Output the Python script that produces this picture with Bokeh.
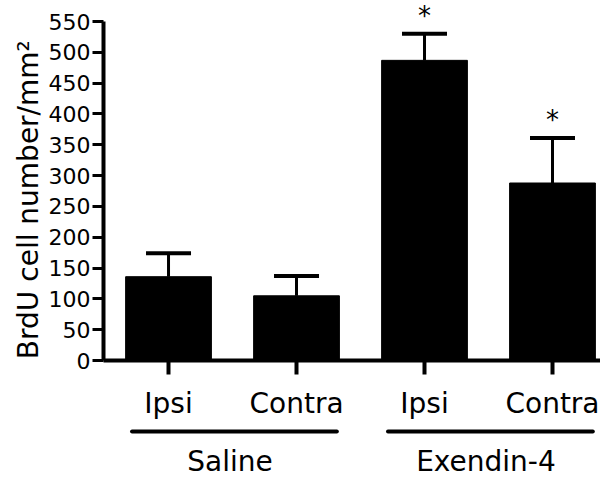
import math
from bokeh.plotting import figure
from bokeh.models import (Range1d, FixedTicker, Whisker, TeeHead, ColumnDataSource,
                          LabelSet)
from bokeh.core.properties import value
from bokeh.embed import file_html
from bokeh.resources import INLINE

# ---- data ----
sub_labels = ["Ipsi", "Contra", "Ipsi", "Contra"]
means = [136, 105, 487, 288]
sems = [38, 32, 43, 73]
significance = ["", "", "*", "*"]
groups = ["Saline", "Exendin-4"]
group_of_bar = [0, 0, 1, 1]
y_ticks = [0, 50, 100, 150, 200, 250, 300, 350, 400, 450, 500, 550]
y_title = "BrdU cell number/mm²"

FONT = "DejaVu Sans"

# layout (data units): where the y axis sits and the visible range
AXIS_X = -0.508
X_START, X_END = -1.3127, 3.375
Y_START, Y_END = -191.4, 584.1

xs = list(range(len(means)))
upper = [m + s for m, s in zip(means, sems)]
bars = ColumnDataSource(dict(x=xs, mean=means, upper=upper, sig=significance))

p = figure(width=600, height=478, output_backend="svg", toolbar_location=None,
           x_range=Range1d(X_START, X_END), y_range=Range1d(Y_START, Y_END),
           min_border_left=0, min_border_right=0, min_border_top=0,
           min_border_bottom=0)
p.outline_line_color = None
p.grid.grid_line_color = None
p.background_fill_color = "white"
p.border_fill_color = "white"

p.vbar(x="x", top="mean", width=0.67, source=bars, fill_color="black",
       line_color="black")

err = Whisker(base="x", lower="mean", upper="upper", source=bars, dimension="height",
              lower_head=None,
              upper_head=TeeHead(size=45, line_width=4, line_color="black"),
              line_width=3, line_color="black")
p.add_layout(err)

stars = LabelSet(x="x", y="upper", text="sig", source=bars, y_offset=9,
                 text_align="center", text_baseline="alphabetic",
                 text_font_size=value("26px"), text_font=value(FONT),
                 text_color="black")
p.add_layout(stars)

# group underlines and group names
g_x0, g_x1, g_mid = [], [], []
for gi in range(len(groups)):
    members = [i for i, g in enumerate(group_of_bar) if g == gi]
    g_x0.append(min(members) - 0.285)
    g_x1.append(max(members) + 0.315)
    g_mid.append((min(members) + max(members)) / 2 - 0.02)
gsrc = ColumnDataSource(dict(x0=g_x0, x1=g_x1, mid=g_mid, name=groups,
                             yline=[-115] * len(groups), ytext=[-180] * len(groups)))
under = Whisker(base="yline", lower="x0", upper="x1", source=gsrc, dimension="width",
                lower_head=None, upper_head=None, line_width=4, line_color="black",
                line_cap="round")
p.add_layout(under)
glabels = LabelSet(x="mid", y="ytext", text="name", source=gsrc, text_align="center",
                   text_baseline="alphabetic", text_font_size=value("28px"),
                   text_font=value(FONT), text_color="black")
p.add_layout(glabels)

# y axis title as rotated text
p.text(x=[X_START + 0.218], y=[261], text=[y_title], angle=math.pi / 2,
       text_align="center", text_baseline="middle", text_font=value(FONT),
       text_font_size=value("28px"), text_color="black")

# axes
xa = p.xaxis[0]
xa.fixed_location = 0
xa.bounds = (AXIS_X, X_END)
xa.ticker = FixedTicker(ticks=xs)
xa.major_label_overrides = {i: lab for i, lab in enumerate(sub_labels)}
xa.axis_line_width = 4
xa.major_tick_line_width = 4
xa.major_tick_out = 14
xa.major_tick_in = 0
xa.minor_tick_line_color = None
xa.major_label_text_font = FONT
xa.major_label_text_font_size = "28px"
xa.major_label_text_color = "black"
xa.major_label_standoff = 12

ya = p.yaxis[0]
ya.fixed_location = AXIS_X
ya.bounds = (0, 550)
ya.ticker = FixedTicker(ticks=y_ticks)
ya.axis_line_width = 4
ya.major_tick_line_width = 3
ya.major_tick_out = 11
ya.major_tick_in = 0
ya.minor_tick_line_color = None
ya.major_label_text_font = FONT
ya.major_label_text_font_size = "22px"
ya.major_label_text_color = "black"
ya.major_label_standoff = 2

open("out.html", "w").write(file_html(p, INLINE))
